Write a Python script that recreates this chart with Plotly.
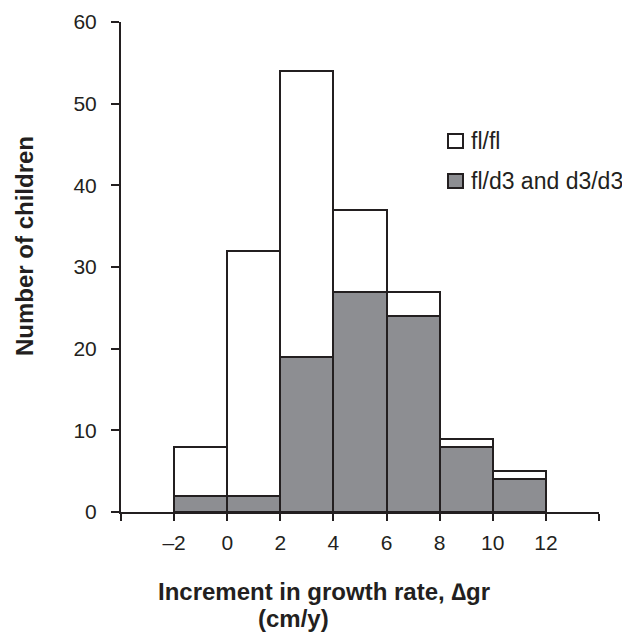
import plotly.graph_objects as go

# Data
bin_centers = [-1, 1, 3, 5, 7, 9, 11]
bin_width = 2
total_flfl = [8, 32, 54, 37, 27, 9, 5]       # top of white (fl/fl) bars = all children
d3_counts = [2, 2, 19, 27, 24, 8, 4]         # fl/d3 and d3/d3 (grey)
x_tickvals = [-4, -2, 0, 2, 4, 6, 8, 10, 12, 14]
x_ticktext = ["", "\u20132", "0", "2", "4", "6", "8", "10", "12", ""]
y_tickvals = [0, 10, 20, 30, 40, 50, 60]
legend_labels = ["fl/fl", "fl/d3 and d3/d3"]

INK = "#231f20"
GREY = "#8d8e92"
FONT = "Liberation Sans, Arial, sans-serif"

OFF = 8  # page body margin
W, H = 630 - OFF, 634 - OFF
L, R, T = 121 - OFF, 31, 22 - OFF
B = H - (512 - OFF)
pw, ph = W - L - R, H - T - B

fig = go.Figure()
fig.add_trace(go.Bar(
    x=bin_centers, y=total_flfl, width=[bin_width] * len(bin_centers),
    marker=dict(color="white", line=dict(color=INK, width=2)),
    name=legend_labels[0], showlegend=False,
))
fig.add_trace(go.Bar(
    x=bin_centers, y=d3_counts, width=[bin_width] * len(bin_centers),
    marker=dict(color=GREY, line=dict(color=INK, width=2)),
    name=legend_labels[1], showlegend=False,
))

def px(x):
    return (x - OFF - L) / pw

def py(y):
    return (H - B - (y - OFF)) / ph

# custom legend
for i, (lab, col) in enumerate(zip(legend_labels, ["white", GREY])):
    yc = 141 + 40 * i
    fig.add_shape(type="rect", xref="paper", yref="paper",
                  x0=px(448), x1=px(463), y0=py(yc - 7), y1=py(yc + 7),
                  fillcolor=col, line=dict(color=INK, width=2))
    fig.add_annotation(xref="paper", yref="paper", x=px(469), y=py(yc),
                       xanchor="left", yanchor="middle", text=lab,
                       showarrow=False, font=dict(size=23, color=INK, family=FONT))

# axis titles
fig.add_annotation(xref="paper", yref="paper", x=px(324), y=py(591),
                   xanchor="center", yanchor="middle",
                   text="<b>Increment in growth rate, \u2206gr</b>",
                   showarrow=False, font=dict(size=24, color=INK, family=FONT))
fig.add_annotation(xref="paper", yref="paper", x=px(293), y=py(618),
                   xanchor="center", yanchor="middle",
                   text="<b>(cm/y)</b>",
                   showarrow=False, font=dict(size=24, color=INK, family=FONT))
fig.add_annotation(xref="paper", yref="paper", x=px(24), y=py(246),
                   xanchor="center", yanchor="middle", textangle=-90,
                   text="<b>Number of children</b>",
                   showarrow=False, font=dict(size=24, color=INK, family=FONT))

fig.update_layout(
    width=W, height=H,
    margin=dict(l=L, r=R, t=T, b=B, pad=0, autoexpand=False),
    paper_bgcolor="white", plot_bgcolor="white",
    barmode="overlay", bargap=0,
    font=dict(family=FONT, color=INK, size=21),
    showlegend=False,
)
fig.update_xaxes(
    range=[-4, 14], tickvals=x_tickvals, ticktext=x_ticktext, automargin=False,
    showline=True, linecolor=INK, linewidth=2, showgrid=False, zeroline=False,
    ticks="outside", ticklen=7, tickwidth=2, tickcolor=INK,
    tickfont=dict(size=21, color=INK, family=FONT), ticklabelstandoff=4,
)
fig.update_yaxes(
    range=[0, 60], tickvals=y_tickvals, automargin=False,
    showline=True, linecolor=INK, linewidth=2, showgrid=False, zeroline=False,
    ticks="outside", ticklen=8, tickwidth=2, tickcolor=INK,
    tickfont=dict(size=21, color=INK, family=FONT), ticklabelstandoff=10,
)

fig.write_html("out.html")
